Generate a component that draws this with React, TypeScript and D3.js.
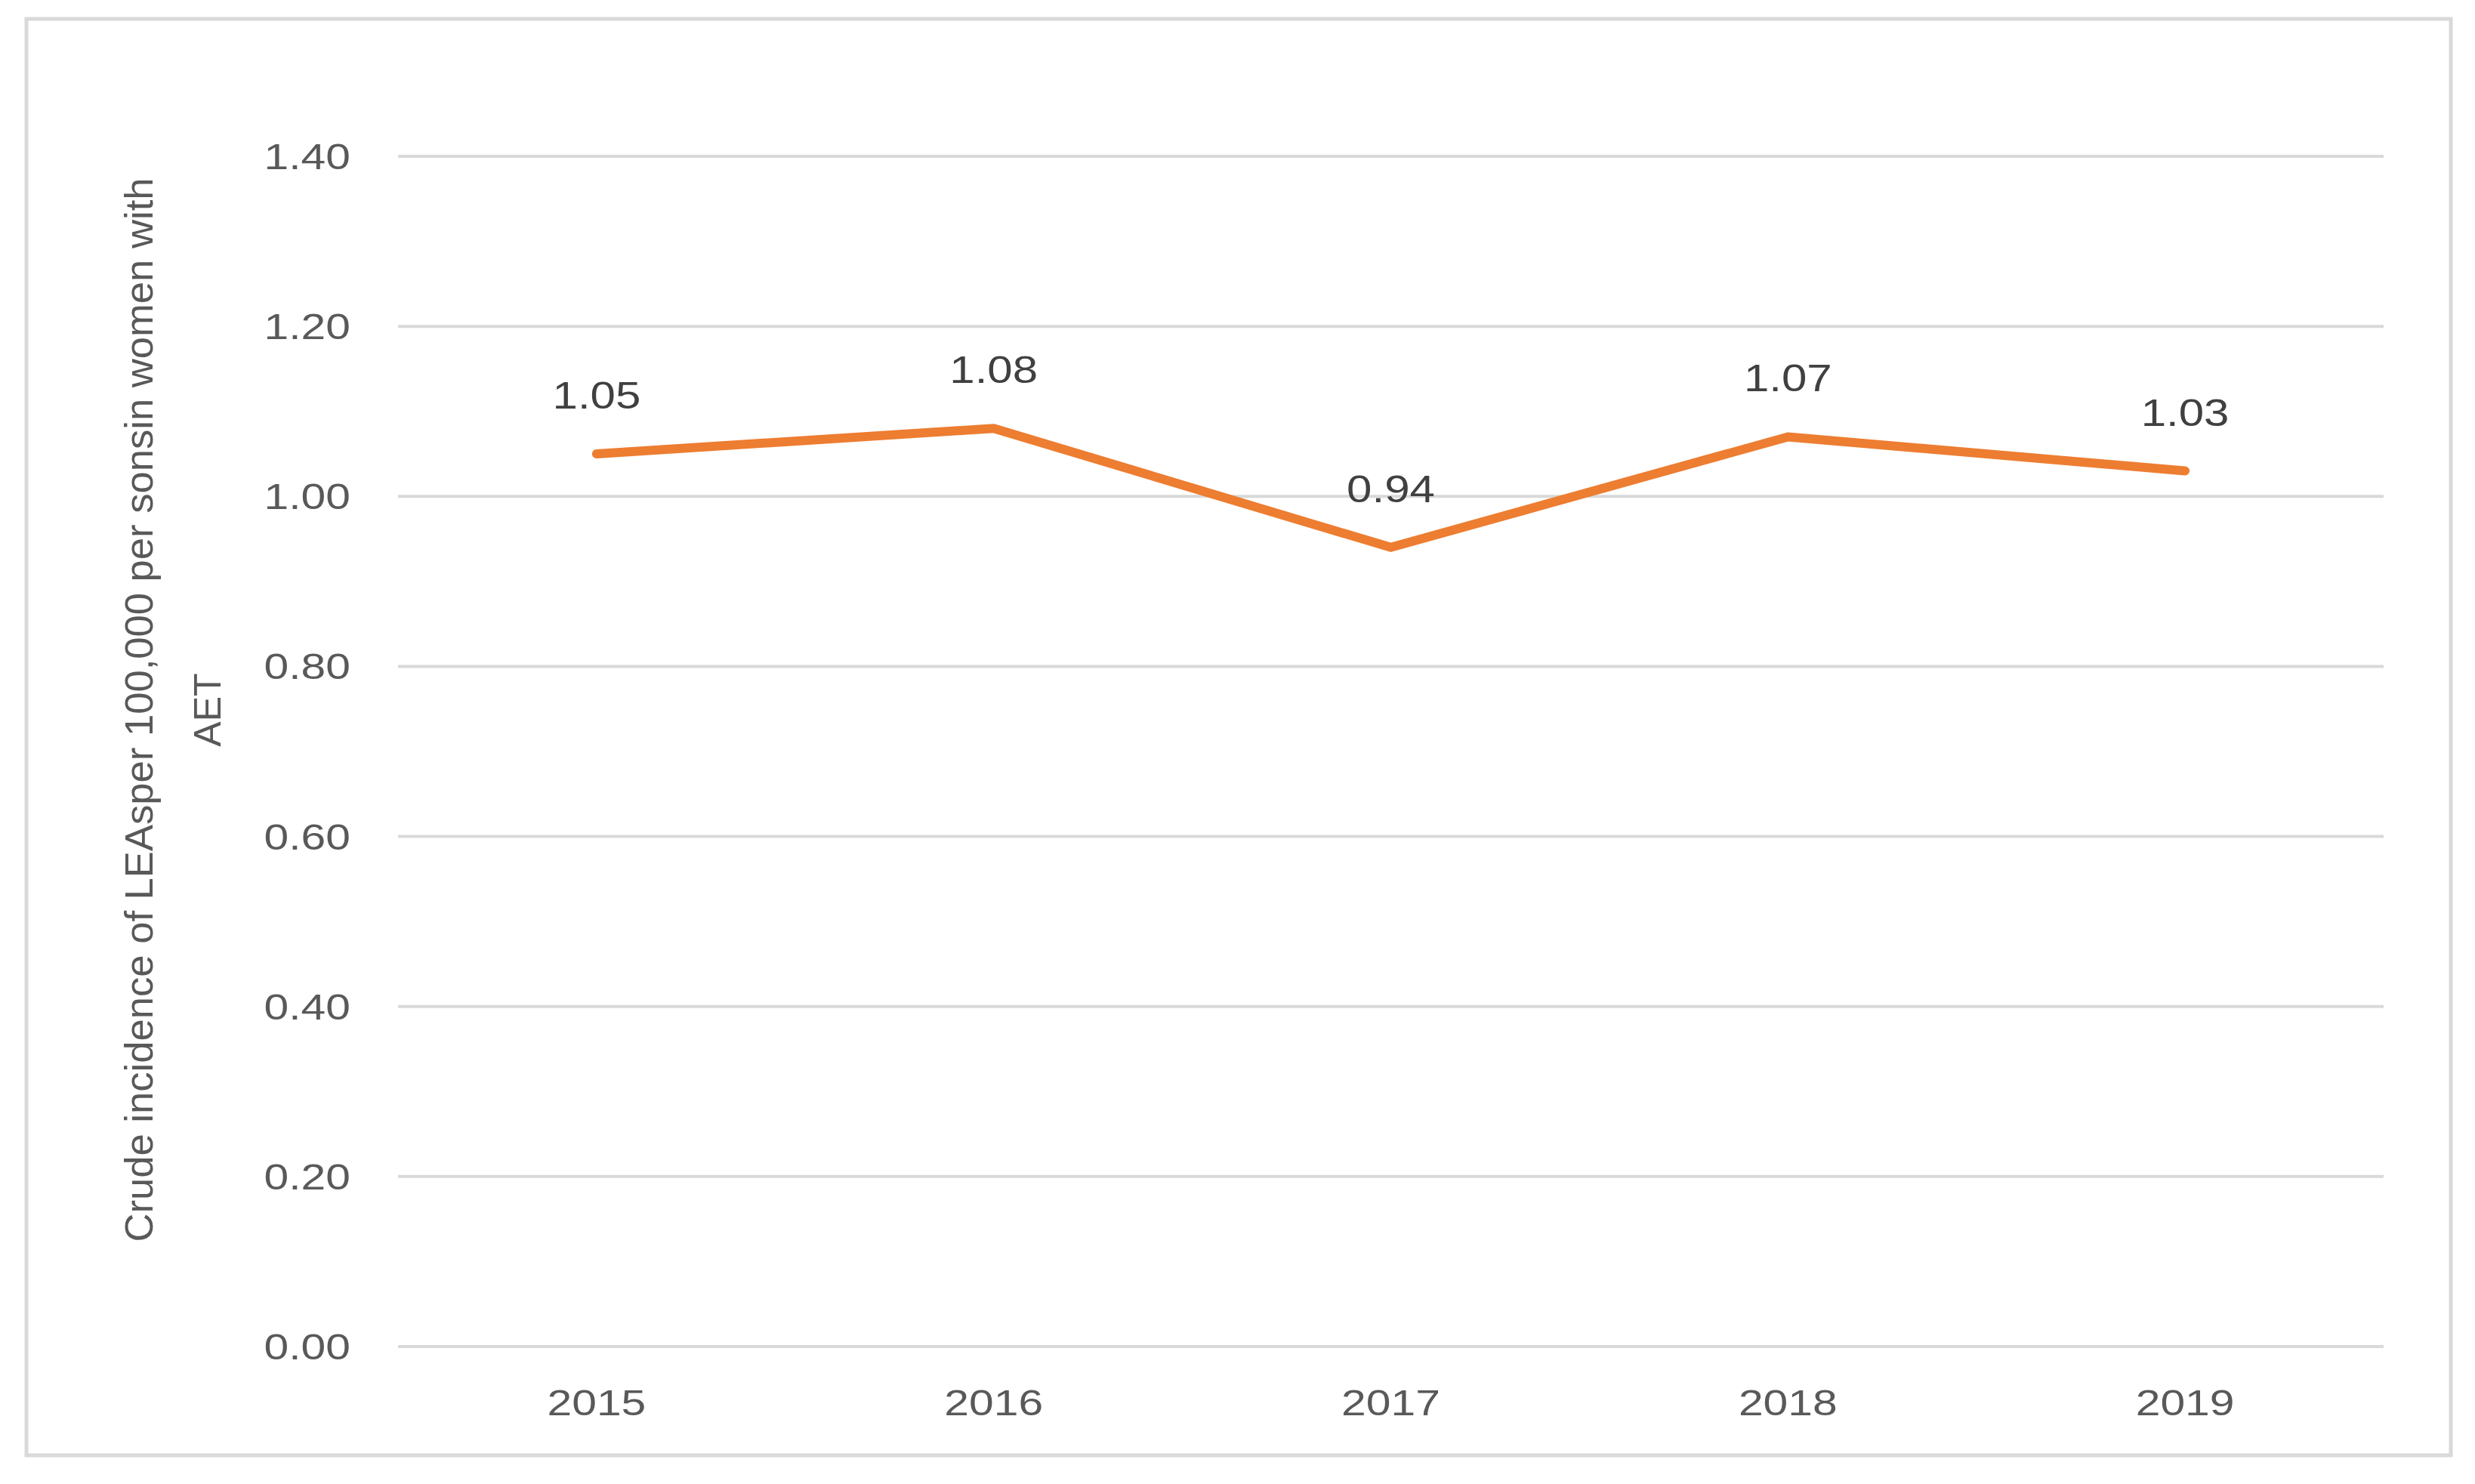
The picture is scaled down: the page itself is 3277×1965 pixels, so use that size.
import React from "react";
import * as d3 from "d3";

const years = ["2015", "2016", "2017", "2018", "2019"];
const incidence = [1.05, 1.08, 0.94, 1.07, 1.03];
const yTicks = [0, 0.2, 0.4, 0.6, 0.8, 1.0, 1.2, 1.4];
const titleLine1 = "Crude incidence of LEAsper 100,000 per sonsin women with";
const titleLine2 = "AET";

const W = 3277;
const H = 1965;
const plot = { left: 527, right: 3156, top: 207, bottom: 1783 };
const SX = 1.2;
const FONT = "'Liberation Sans', Arial, sans-serif";

export default function App() {
  const x = d3.scaleBand<string>().domain(years).range([plot.left, plot.right]);
  const y = d3.scaleLinear().domain([0, 1.4]).range([plot.bottom, plot.top]);
  const cx = (d: string) => (x(d) ?? 0) + x.bandwidth() / 2;
  const pts: [number, number][] = years.map((yr, i) => [cx(yr), y(incidence[i])]);
  const line = d3.line()(pts) ?? "";

  const stretched = (tx: number, ty: number) => `translate(${tx},${ty}) scale(${SX},1)`;

  return (
    <svg
      width={W}
      height={H}
      style={{ position: "absolute", left: 0, top: 0, display: "block", background: "#fff" }}
    >
      <rect x={0} y={0} width={W} height={H} fill="#fff" />
      <rect x={35} y={25} width={3210} height={1902} fill="#fff" stroke="#d9d9d9" strokeWidth={5} />
      {yTicks.map((t) => (
        <g key={t}>
          <line x1={plot.left} x2={plot.right} y1={y(t)} y2={y(t)} stroke="#d9d9d9" strokeWidth={4} />
          <text
            transform={stretched(464, y(t) + 17)}
            textAnchor="end"
            fontFamily={FONT}
            fontSize={49}
            fill="#595959"
          >
            {t.toFixed(2)}
          </text>
        </g>
      ))}
      {years.map((yr) => (
        <text
          key={yr}
          transform={stretched(cx(yr), 1874)}
          textAnchor="middle"
          fontFamily={FONT}
          fontSize={49}
          fill="#595959"
        >
          {yr}
        </text>
      ))}
      <path d={line} fill="none" stroke="#ED7D31" strokeWidth={12} strokeLinecap="round" strokeLinejoin="round" />
      {years.map((yr, i) => (
        <text
          key={"l" + yr}
          transform={stretched(cx(yr), y(incidence[i]) - 60)}
          textAnchor="middle"
          fontFamily={FONT}
          fontSize={50}
          fill="#404040"
        >
          {incidence[i].toFixed(2)}
        </text>
      ))}
      <g transform="translate(202,940) rotate(-90)">
        <text
          x={0}
          y={0}
          textAnchor="middle"
          fontFamily={FONT}
          fontSize={52}
          fill="#595959"
          textLength={1409}
          lengthAdjust="spacingAndGlyphs"
        >
          {titleLine1}
        </text>
        <text x={0} y={90} textAnchor="middle" fontFamily={FONT} fontSize={50} fill="#595959">
          {titleLine2}
        </text>
      </g>
    </svg>
  );
}
